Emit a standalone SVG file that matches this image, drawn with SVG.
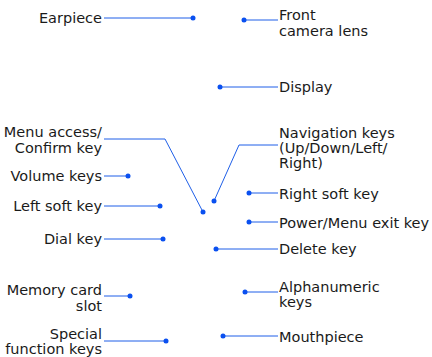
<svg xmlns="http://www.w3.org/2000/svg" width="432" height="357" viewBox="0 0 432 357">
<style>
text{font-family:"DejaVu Sans",Verdana,sans-serif;font-size:14.5px;fill:#1a1a1a}
.l{text-anchor:end}
.c line,.c polyline{stroke:#1f5fe8;stroke-width:1;fill:none}
.c circle{fill:#0a50f0}
</style>
<rect width="432" height="357" fill="#fff"/>
<g id="connectors" class="c">
<line x1="104" y1="18" x2="193" y2="18"/><circle cx="193" cy="18" r="2.5"/>
<line x1="244" y1="20" x2="278" y2="20"/><circle cx="244" cy="20" r="2.5"/>
<line x1="220" y1="87" x2="278" y2="87"/><circle cx="220" cy="87" r="2.5"/>
<polyline points="104,139 165,139 203,212"/><circle cx="203" cy="212" r="2.5"/>
<polyline points="278,145 239,145 214,201"/><circle cx="214" cy="201" r="2.5"/>
<line x1="104" y1="176" x2="128" y2="176"/><circle cx="128" cy="176" r="2.5"/>
<line x1="104" y1="206" x2="160" y2="206"/><circle cx="160" cy="206" r="2.5"/>
<line x1="104" y1="239" x2="163" y2="239"/><circle cx="163" cy="239" r="2.5"/>
<line x1="249" y1="193" x2="278" y2="193"/><circle cx="249" cy="193" r="2.5"/>
<line x1="249" y1="222" x2="278" y2="222"/><circle cx="249" cy="222" r="2.5"/>
<line x1="216" y1="249" x2="278" y2="249"/><circle cx="216" cy="249" r="2.5"/>
<line x1="104" y1="296" x2="130" y2="296"/><circle cx="130" cy="296" r="2.5"/>
<line x1="104" y1="341" x2="166" y2="341"/><circle cx="166" cy="341" r="2.5"/>
<line x1="245" y1="292" x2="278" y2="292"/><circle cx="245" cy="292" r="2.5"/>
<line x1="223" y1="336" x2="278" y2="336"/><circle cx="223" cy="336" r="2.5"/>
</g>
<g id="earpiece"><text class="l" x="102" y="23">Earpiece</text></g>
<g id="front-camera"><text x="279" y="20">Front</text><text x="279" y="35.5">camera lens</text></g>
<g id="display"><text x="279" y="92">Display</text></g>
<g id="menu-access"><text class="l" x="102" y="137">Menu access/</text><text class="l" x="102" y="152.5">Confirm key</text></g>
<g id="navigation"><text x="279" y="138">Navigation keys</text><text x="279" y="153">(Up/Down/Left/</text><text x="279" y="168">Right)</text></g>
<g id="volume"><text class="l" x="102" y="181">Volume keys</text></g>
<g id="left-soft"><text class="l" x="102" y="211">Left soft key</text></g>
<g id="right-soft"><text x="279" y="199">Right soft key</text></g>
<g id="power"><text x="279" y="228">Power/Menu exit key</text></g>
<g id="dial"><text class="l" x="102" y="244">Dial key</text></g>
<g id="delete"><text x="279" y="254">Delete key</text></g>
<g id="memory-card"><text class="l" x="102" y="295">Memory card</text><text class="l" x="102" y="310.5">slot</text></g>
<g id="alphanumeric"><text x="279" y="292">Alphanumeric</text><text x="279" y="307">keys</text></g>
<g id="special"><text class="l" x="102" y="339">Special</text><text class="l" x="102" y="354">function keys</text></g>
<g id="mouthpiece"><text x="279" y="342">Mouthpiece</text></g>
</svg>
